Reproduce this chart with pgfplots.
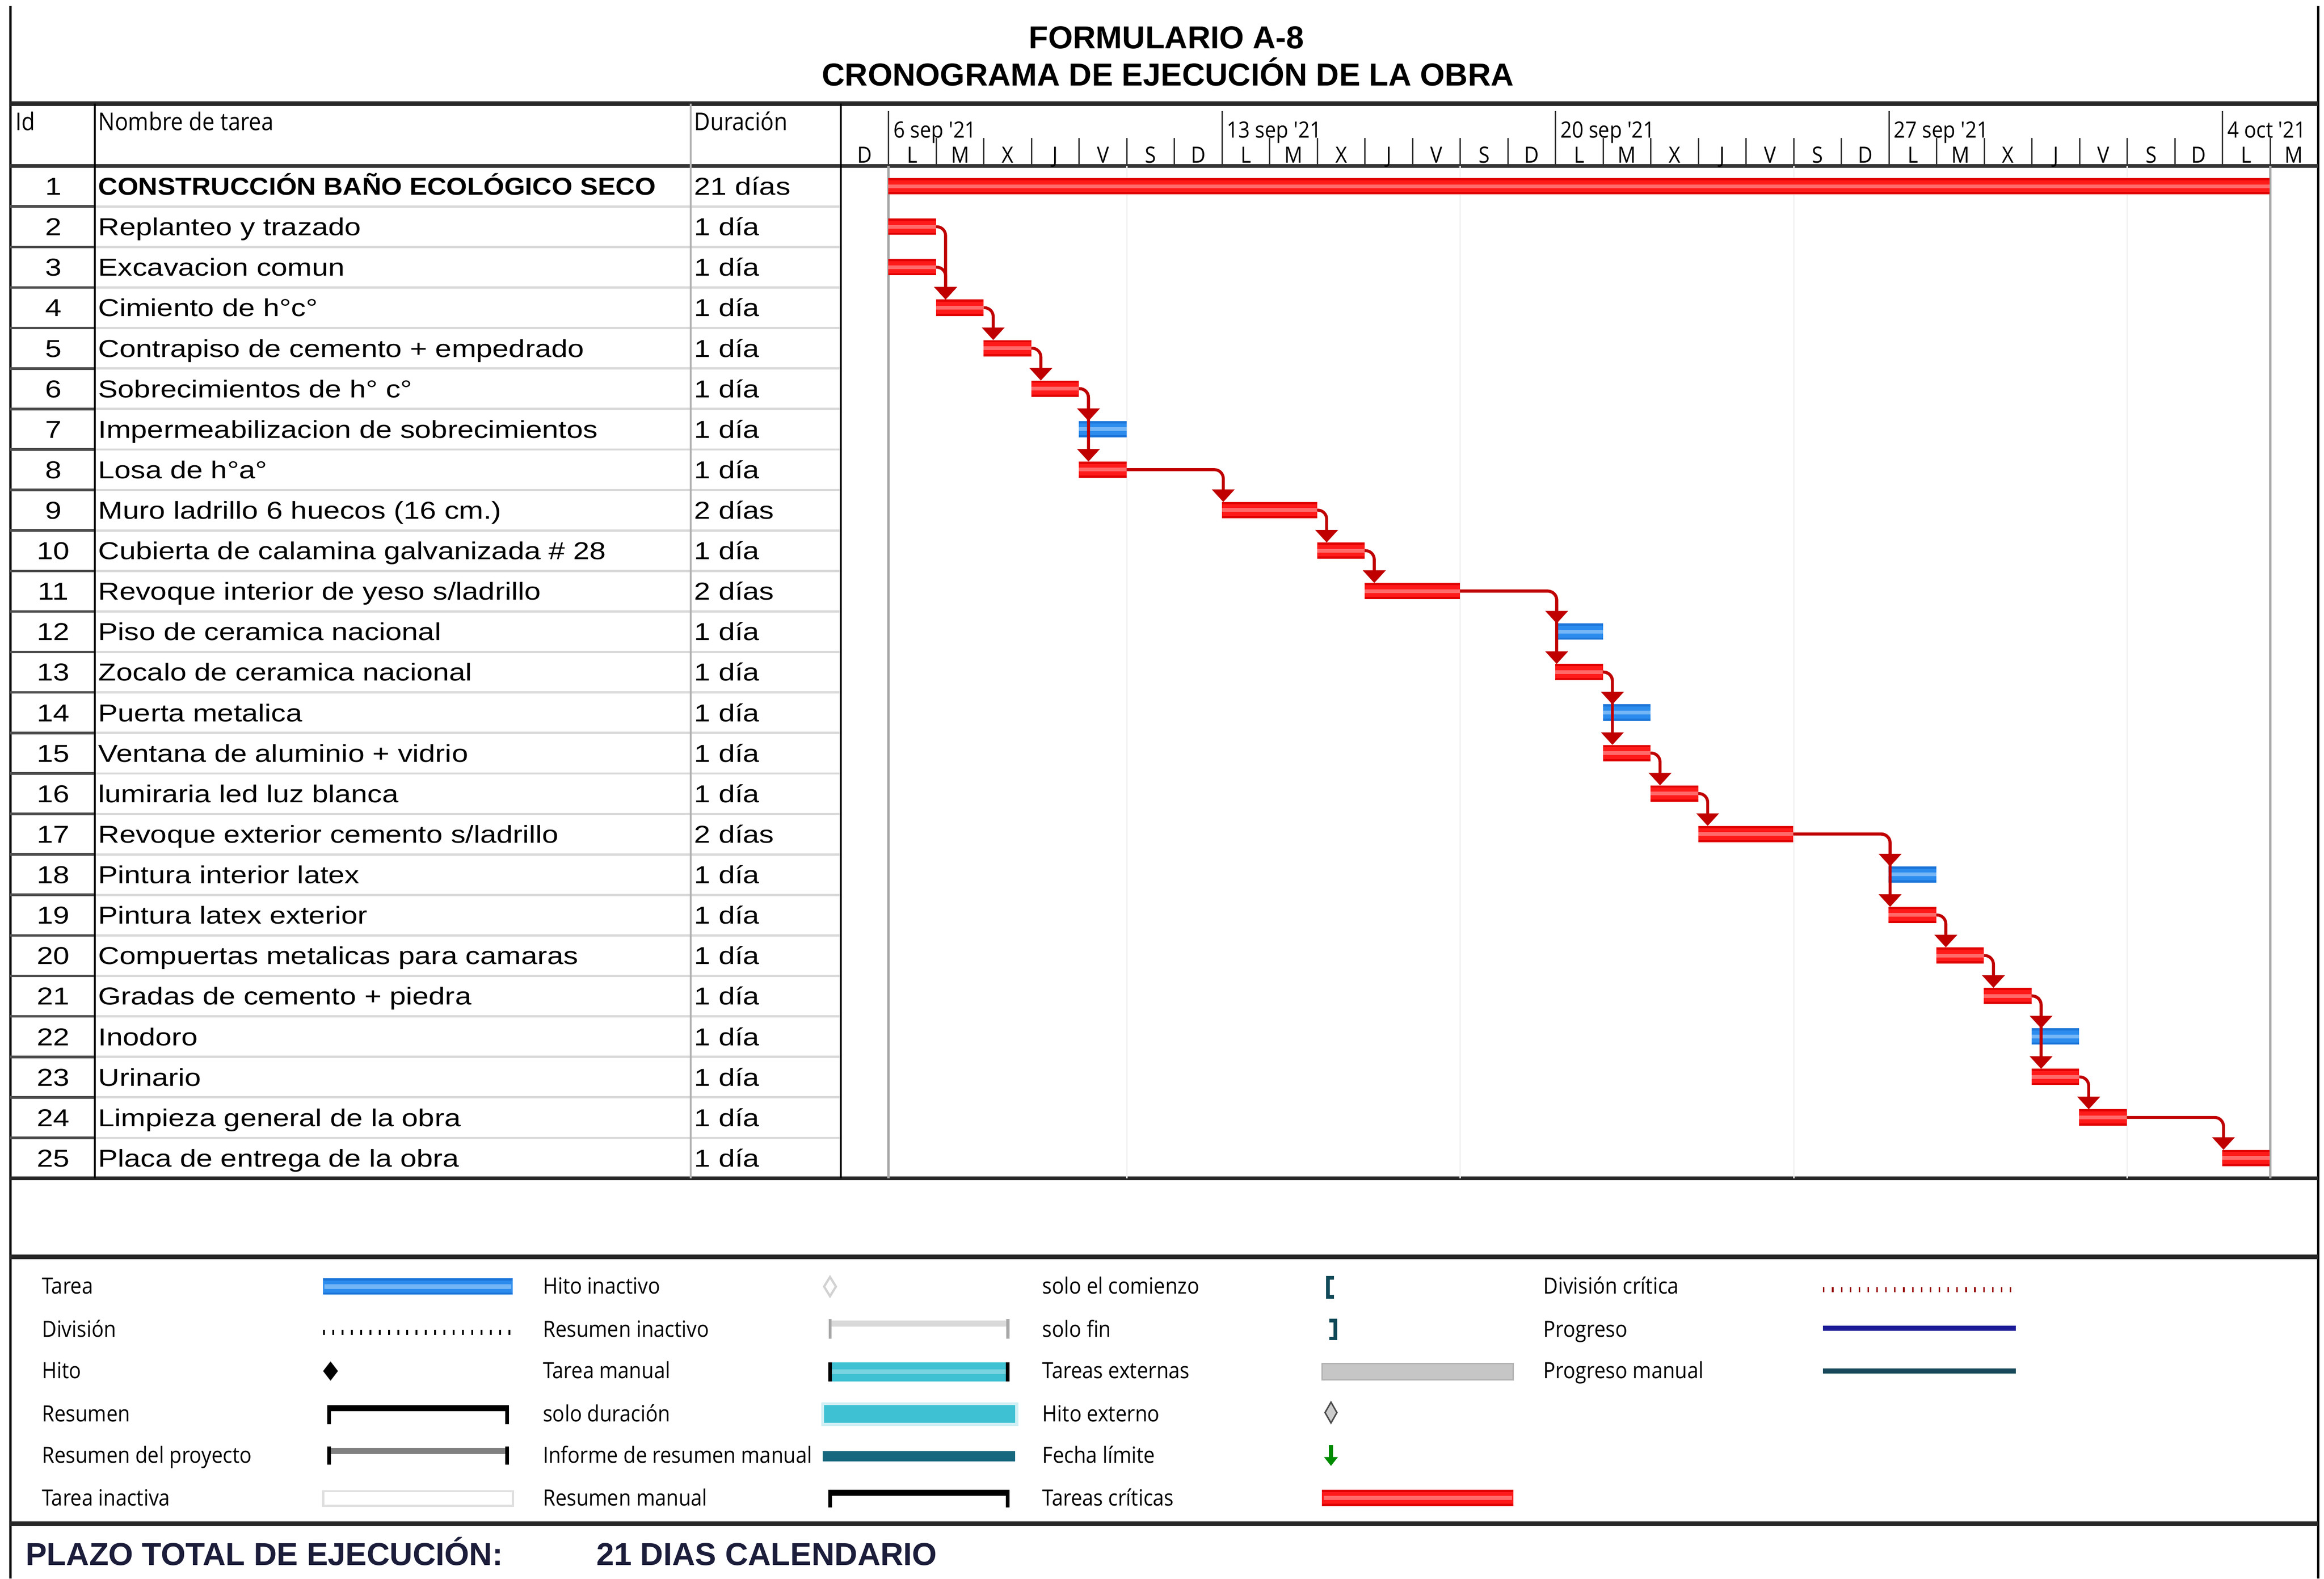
\documentclass[border=0pt]{standalone}
\usepackage{pgfplots}
\pgfplotsset{compat=1.18}
\usepackage{pgfplotstable}
\usepackage{fontspec}
\usetikzlibrary{arrows.meta}
\setmainfont{Liberation Sans}
\newfontfamily\tabfont[FakeStretch=1.2]{Liberation Sans}
\newfontfamily\tabboldfont[FakeStretch=1.09]{Liberation Sans}
\newfontfamily\segfont[FakeStretch=0.9]{Open Sans}

\definecolor{critA}{HTML}{E00000}
\definecolor{critB}{HTML}{FF1A1A}
\definecolor{critC}{HTML}{FF6A6A}
\definecolor{blueA}{HTML}{1A74D8}
\definecolor{blueB}{HTML}{2C8CEE}
\definecolor{blueC}{HTML}{74B6F6}
\definecolor{linkred}{HTML}{C00000}
\definecolor{cyanbar}{HTML}{3EC1D3}
\definecolor{tealdark}{HTML}{16687E}
\definecolor{tealline}{HTML}{17495A}
\definecolor{progblue}{HTML}{1C1C98}
\definecolor{navy}{HTML}{1B1D3A}

\newcommand\tf{\tabfont\fontsize{9.4}{11}\selectfont}
\newcommand\tfb{\tabboldfont\bfseries\fontsize{9.4}{11}\selectfont}
\newcommand\hf{\segfont\fontsize{9.4}{11}\selectfont}
\newcommand\lf{\segfont\fontsize{8.6}{10}\selectfont}
\newcommand\ttlf{\bfseries\fontsize{12.2}{14}\selectfont}

\newcommand\task[3]{%
  \node[anchor=base, inner sep=0pt] at (36,{112+27.32*(#1-0.5)+5.9}) {\tf #1};
  \node[anchor=base west, inner sep=0pt] at (66,{112+27.32*(#1-0.5)+5.9}) {\tf #2};
  \node[anchor=base west, inner sep=0pt] at (468,{112+27.32*(#1-0.5)+5.9}) {\tf #3};}

% critical tasks: row, start day (0 = lunes 6 sep 2021), duration in days
\pgfplotstableread{
row start dur
1 0 29
2 0 1
3 0 1
4 1 1
5 2 1
6 3 1
8 4 1
9 7 2
10 9 1
11 10 2
13 14 1
15 15 1
16 16 1
17 17 2
19 21 1
20 22 1
21 23 1
23 24 1
24 25 1
25 28 1
}\crit
% non critical tasks
\pgfplotstableread{
row start dur
7 4 1
12 14 1
14 15 1
18 21 1
22 24 1
}\noncrit

\pgfplotsset{
  barlayer/.style n args={2}{draw=none, mark=none, forget plot,
    error bars/.cd, x dir=plus, x explicit, error mark=none,
    error bar style={line width=#2, draw=#1, line cap=butt}},
  lk/.style={draw=linkred, line width=0.04cm, rounded corners=0.12cm,
    -{Triangle[width=0.3cm,length=0.17cm]}, forget plot, mark=none},
}

\begin{document}
\begin{tikzpicture}
\begin{scope}[x=0.02cm,y=-0.02cm]
\path[use as bounding box] (0,0) rectangle (1568,1065);
% title
\node[anchor=base] at (787,32.7) {\ttlf FORMULARIO A-8};
\node[anchor=base] at (788,57.7) {\ttlf CRONOGRAMA DE EJECUCIÓN DE LA OBRA};
% outer lines
\draw[black, line width=0.03cm] (7,4) -- (7,1065);
\draw[black, line width=0.03cm] (1564,4) -- (1564,1065);
\draw[black!85, line width=0.06cm] (7,70) -- (1564,70);
\draw[black!80, line width=0.05cm] (7,112) -- (1564,112);
\draw[black!85, line width=0.05cm] (7,795) -- (1564,795);
\draw[black!85, line width=0.06cm] (7,848) -- (1564,848);
\draw[black!85, line width=0.06cm] (7,1028) -- (1564,1028);
% row separators
\foreach \k in {1,...,24} {
  \draw[gray!30, line width=0.03cm] (64,{112+27.32*\k}) -- (567,{112+27.32*\k});
  \draw[black!70, line width=0.035cm] (7,{112+27.32*\k}) -- (64,{112+27.32*\k});
}
% column separators
\draw[black, line width=0.02cm] (64,70) -- (64,795);
\draw[gray!60, line width=0.02cm] (466,70) -- (466,795);
\draw[black, line width=0.025cm] (567.4,70) -- (567.4,795);
% header labels
\node[anchor=base west, inner sep=0pt] at (10,88) {\hf Id};
\node[anchor=base west, inner sep=0pt] at (66,88) {\hf Nombre de tarea};
\node[anchor=base west, inner sep=0pt] at (468,88) {\hf Duración};
% timeline header
\foreach \d in {0,...,29} \draw[black!80, line width=0.02cm] ({567.4+(\d+1)*32.142},93) -- ({567.4+(\d+1)*32.142},112);
\foreach \d in {0,7,14,21,28} \draw[black!80, line width=0.02cm] ({567.4+(\d+1)*32.142},75) -- ({567.4+(\d+1)*32.142},112);
\foreach \d/\w in {0/{6 sep '21},7/{13 sep '21},14/{20 sep '21},21/{27 sep '21},28/{4 oct '21}}
  \node[anchor=base west, inner sep=0pt] at ({567.4+(\d+1)*32.142+3},93) {\lf \w};
\foreach \l [count=\c from -1] in {D,L,M,X,J,V,S,D,L,M,X,J,V,S,D,L,M,X,J,V,S,D,L,M,X,J,V,S,D,L,M}
  \node[anchor=base, inner sep=0pt] at ({567.4+(\c+1.5)*32.142},110) {\lf \l};
% non-working time marks and project start / end lines
\foreach \d in {5,12,19,26} \draw[gray!10, line width=0.02cm] ({567.4+(\d+1)*32.142},112) -- ({567.4+(\d+1)*32.142},795);
\draw[gray!70, line width=0.03cm] ({567.4+32.142},112) -- ({567.4+32.142},795);
\draw[gray!70, line width=0.03cm] ({567.4+30*32.142},112) -- ({567.4+30*32.142},795);
% table
\task{1}{\tfb CONSTRUCCIÓN BAÑO ECOLÓGICO SECO}{21 días}
\task{2}{Replanteo y trazado}{1 día}
\task{3}{Excavacion comun}{1 día}
\task{4}{Cimiento de h°c°}{1 día}
\task{5}{Contrapiso de cemento + empedrado}{1 día}
\task{6}{Sobrecimientos de h° c°}{1 día}
\task{7}{Impermeabilizacion de sobrecimientos}{1 día}
\task{8}{Losa de h°a°}{1 día}
\task{9}{Muro ladrillo 6 huecos (16 cm.)}{2 días}
\task{10}{Cubierta de calamina galvanizada \# 28}{1 día}
\task{11}{Revoque interior de yeso s/ladrillo}{2 días}
\task{12}{Piso de ceramica nacional}{1 día}
\task{13}{Zocalo de ceramica nacional}{1 día}
\task{14}{Puerta metalica}{1 día}
\task{15}{Ventana de aluminio + vidrio}{1 día}
\task{16}{lumiraria led luz blanca}{1 día}
\task{17}{Revoque exterior cemento s/ladrillo}{2 días}
\task{18}{Pintura interior latex}{1 día}
\task{19}{Pintura latex exterior}{1 día}
\task{20}{Compuertas metalicas para camaras}{1 día}
\task{21}{Gradas de cemento + piedra}{1 día}
\task{22}{Inodoro}{1 día}
\task{23}{Urinario}{1 día}
\task{24}{Limpieza general de la obra}{1 día}
\task{25}{Placa de entrega de la obra}{1 día}
% legend
\foreach \y/\t in {868/Tarea,897/División,925/Hito,954/Resumen,982/Resumen del proyecto,1011/Tarea inactiva}
  \node[anchor=base west, inner sep=0pt] at (28,\y+5) {\lf \t};
\foreach \y/\t in {868/Hito inactivo,897/Resumen inactivo,925/Tarea manual,954/solo duración,982/Informe de resumen manual,1011/Resumen manual}
  \node[anchor=base west, inner sep=0pt] at (366,\y+5) {\lf \t};
\foreach \y/\t in {868/solo el comienzo,897/solo fin,925/Tareas externas,954/Hito externo,982/Fecha límite,1011/Tareas críticas}
  \node[anchor=base west, inner sep=0pt] at (703,\y+5) {\lf \t};
\foreach \y/\t in {868/División crítica,897/Progreso,925/Progreso manual}
  \node[anchor=base west, inner sep=0pt] at (1041,\y+5) {\lf \t};
% col 1 swatches
\fill[blueA] (218,862.5) rectangle (346,873.5);
\fill[blueB] (218,864) rectangle (346,872);
\fill[blueC] (219,866.5) rectangle (345,869.5);
\draw[black, line width=0.07cm, dash pattern=on 0.025cm off 0.1cm] (218,899) -- (346,899);
\fill[black] (223,918.5) -- (228,925) -- (223,931.5) -- (218,925) -- cycle;
\draw[black, line width=0.08cm] (222,950) -- (342,950);
\draw[black, line width=0.05cm] (222,948) -- (222,961) (342,948) -- (342,961);
\draw[gray, line width=0.08cm] (222,979) -- (342,979);
\draw[black, line width=0.05cm] (222,976) -- (222,988) (342,976) -- (342,988);
\draw[gray!25, line width=0.03cm, fill=white] (218,1006) rectangle (346,1016);
% col 2 swatches
\draw[gray!35, line width=0.03cm] (560,861.5) -- (564,868) -- (560,874.5) -- (556,868) -- cycle;
\draw[gray!30, line width=0.08cm] (560,893) -- (680,893);
\draw[gray!70, line width=0.04cm] (560,890) -- (560,903) (680,890) -- (680,903);
\fill[cyanbar] (560,919) rectangle (680,932);
\fill[cyanbar!70!white] (561,924) rectangle (679,927);
\draw[black, line width=0.05cm] (560,919) -- (560,932) (680,919) -- (680,932);
\draw[cyanbar!25, line width=0.04cm, fill=cyanbar] (555,947) rectangle (686,961);
\fill[tealdark] (555,979) rectangle (685,986);
\draw[black, line width=0.08cm] (560,1007) -- (680,1007);
\draw[black, line width=0.05cm] (560,1005) -- (560,1017) (680,1005) -- (680,1017);
% col 3 swatches
\draw[tealdark!70!black, line width=0.05cm] (900,862) -- (896,862) -- (896,875) -- (900,875);
\draw[tealdark!70!black, line width=0.05cm] (897,891) -- (901,891) -- (901,903) -- (897,903);
\draw[gray!60, line width=0.02cm, fill=gray!45] (892,920) rectangle (1021,931);
\draw[black!70, line width=0.02cm, fill=gray!40] (898,946) -- (902,953) -- (898,960) -- (894,953) -- cycle;
\draw[green!55!black, line width=0.06cm, -{Triangle[width=0.18cm,length=0.12cm]}] (898,975) -- (898,989);
\fill[critA] (892,1005) rectangle (1021,1016);
\fill[critB] (892,1006.5) rectangle (1021,1014.5);
\fill[critC] (893,1009) rectangle (1020,1012);
% col 4 swatches
\draw[red!60!black, line width=0.07cm, dash pattern=on 0.02cm off 0.1cm] (1230,870) -- (1360,870);
\draw[progblue, line width=0.07cm] (1230,896) -- (1360,896);
\draw[tealline, line width=0.07cm] (1230,925) -- (1360,925);
% footer
\node[anchor=base west, inner sep=0pt, text=navy] at (17,1056) {\ttlf PLAZO TOTAL DE EJECUCIÓN:};
\node[anchor=base west, inner sep=0pt, text=navy] at (402,1056) {\ttlf 21 DIAS CALENDARIO};
\end{scope}

\begin{axis}[
  at={(11.348cm,-2.24cm)}, anchor=north west,
  scale only axis, width=19.928cm, height=13.66cm,
  xmin=-1, xmax=30, ymin=0.5, ymax=25.5, y dir=reverse,
  enlargelimits=false, hide axis, clip=false,
]
% critical bars
\addplot[barlayer={critA}{0.22cm}] table[x=start, y=row, x error=dur] {\crit};
\addplot[barlayer={critB}{0.16cm}] table[x=start, y=row, x error=dur] {\crit};
\addplot[barlayer={critC}{0.05cm}] table[x=start, y=row, x error=dur] {\crit};
% non critical bars
\addplot[barlayer={blueA}{0.22cm}] table[x=start, y=row, x error=dur] {\noncrit};
\addplot[barlayer={blueB}{0.16cm}] table[x=start, y=row, x error=dur] {\noncrit};
\addplot[barlayer={blueC}{0.05cm}] table[x=start, y=row, x error=dur] {\noncrit};
% links
\addplot[lk] coordinates {(1,2) (1.2,2) (1.2,3.8)};
\addplot[lk] coordinates {(1,3) (1.2,3) (1.2,3.8)};
\addplot[lk] coordinates {(2,4) (2.2,4) (2.2,4.8)};
\addplot[lk] coordinates {(3,5) (3.2,5) (3.2,5.8)};
\addplot[lk] coordinates {(4,6) (4.2,6) (4.2,6.8)};
\addplot[lk] coordinates {(4,6) (4.2,6) (4.2,7.8)};
\addplot[lk] coordinates {(5,8) (7.03,8) (7.03,8.8)};
\addplot[lk] coordinates {(9,9) (9.2,9) (9.2,9.8)};
\addplot[lk] coordinates {(10,10) (10.2,10) (10.2,10.8)};
\addplot[lk] coordinates {(12,11) (14.03,11) (14.03,11.8)};
\addplot[lk] coordinates {(12,11) (14.03,11) (14.03,12.8)};
\addplot[lk] coordinates {(15,13) (15.2,13) (15.2,13.8)};
\addplot[lk] coordinates {(15,13) (15.2,13) (15.2,14.8)};
\addplot[lk] coordinates {(16,15) (16.2,15) (16.2,15.8)};
\addplot[lk] coordinates {(17,16) (17.2,16) (17.2,16.8)};
\addplot[lk] coordinates {(19,17) (21.03,17) (21.03,17.8)};
\addplot[lk] coordinates {(19,17) (21.03,17) (21.03,18.8)};
\addplot[lk] coordinates {(22,19) (22.2,19) (22.2,19.8)};
\addplot[lk] coordinates {(23,20) (23.2,20) (23.2,20.8)};
\addplot[lk] coordinates {(24,21) (24.2,21) (24.2,21.8)};
\addplot[lk] coordinates {(24,21) (24.2,21) (24.2,22.8)};
\addplot[lk] coordinates {(25,23) (25.2,23) (25.2,23.8)};
\addplot[lk] coordinates {(26,24) (28.03,24) (28.03,24.8)};
\end{axis}
\end{tikzpicture}
\end{document}
